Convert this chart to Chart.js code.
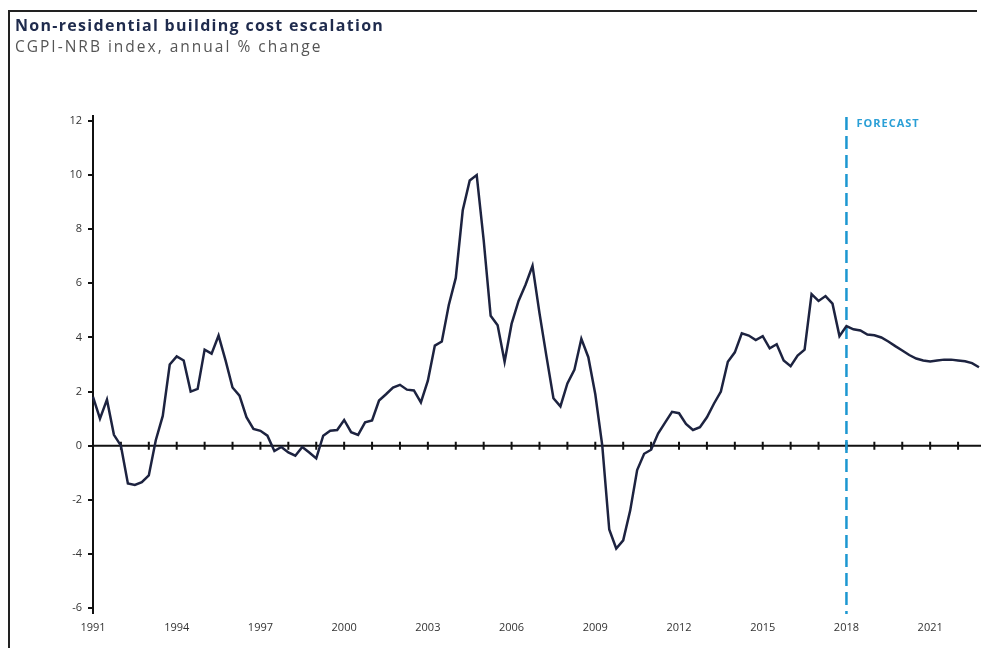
<!DOCTYPE html>
<html>
<head>
<meta charset="utf-8">
<title>Non-residential building cost escalation</title>
<script src="https://cdn.jsdelivr.net/npm/chart.js@4.4.1/dist/chart.umd.min.js"></script>
<style>
  html, body { margin: 0; padding: 0; background: #fff; }
  #frame {
    position: absolute; left: 8px; top: 10px; width: 967px; height: 640px;
    border-top: 2px solid #222; border-left: 2px solid #222;
  }
  #wrap { position: absolute; left: 0; top: 0; width: 981px; height: 648px; }
  .title {
    position: absolute; left: 15px; top: 15px; margin: 0; white-space: nowrap;
    font: bold 16px/20px "Open Sans", sans-serif; letter-spacing: 1.3px; color: #1f2b4d;
  }
  .subtitle {
    position: absolute; left: 15px; top: 36px; margin: 0; white-space: nowrap;
    font: 15.5px/20px "Open Sans", sans-serif; letter-spacing: 2px; color: #555;
  }
</style>
</head>
<body>
<div id="frame"></div>
<div id="wrap"><canvas id="costChart"></canvas></div>
<h1 class="title">Non-residential building cost escalation</h1>
<p class="subtitle">CGPI-NRB index, annual % change</p>
<script>
// Quarterly categories, 1991 Q1 .. 2022 Q4
const firstYear = 1991;
const lastYear = 2022;
const quarters = [];
for (let yr = firstYear; yr <= lastYear; yr++) {
  for (let q = 1; q <= 4; q++) quarters.push(yr + ' Q' + q);
}

// CGPI-NRB annual % change (one row per year, Q1..Q4)
const growth = [
  1.8, 1.0, 1.7, 0.4,       // 1991
  0.0, -1.4, -1.45, -1.35,  // 1992
  -1.1, 0.2, 1.1, 3.0,      // 1993
  3.3, 3.15, 2.0, 2.1,      // 1994
  3.55, 3.4, 4.07, 3.15,    // 1995
  2.15, 1.85, 1.05, 0.62,   // 1996
  0.55, 0.37, -0.2, -0.05,  // 1997
  -0.25, -0.37, -0.05, -0.25, // 1998
  -0.47, 0.37, 0.55, 0.58,  // 1999
  0.95, 0.5, 0.4, 0.86,     // 2000
  0.93, 1.67, 1.9, 2.15,    // 2001
  2.25, 2.07, 2.04, 1.6,    // 2002
  2.4, 3.7, 3.85, 5.2,      // 2003
  6.2, 8.7, 9.8, 10.0,      // 2004
  7.6, 4.8, 4.45, 3.1,      // 2005
  4.5, 5.35, 5.95, 6.65,    // 2006
  4.9, 3.3, 1.75, 1.45,     // 2007
  2.3, 2.8, 3.95, 3.27,     // 2008
  1.9, 0.0, -3.1, -3.8,     // 2009
  -3.5, -2.4, -0.9, -0.3,   // 2010
  -0.15, 0.45, 0.85, 1.25,  // 2011
  1.2, 0.8, 0.58, 0.68,     // 2012
  1.05, 1.55, 2.0, 3.1,     // 2013
  3.45, 4.15, 4.07, 3.9,    // 2014
  4.05, 3.6, 3.75, 3.15,    // 2015
  2.94, 3.33, 3.55, 5.6,    // 2016
  5.35, 5.53, 5.25, 4.05,   // 2017
  4.42, 4.3, 4.26, 4.11,    // 2018
  4.08, 4.0, 3.85, 3.68,    // 2019
  3.52, 3.35, 3.22, 3.15,   // 2020
  3.11, 3.15, 3.18, 3.18,   // 2021
  3.15, 3.12, 3.05, 2.9     // 2022
];

const forecastStart = '2018 Q1';
const yTicks = [-6, -4, -2, 0, 2, 4, 6, 8, 10, 12];
const labelEvery = 12; // a year label every 3 years

// draws the y axis, the zero line with yearly tick marks and the forecast marker
const axisPlugin = {
  id: 'axisLines',
  beforeDatasetsDraw(chart) {
    const { ctx, chartArea, scales: { x, y } } = chart;
    const y0 = y.getPixelForValue(0);
    ctx.save();
    ctx.strokeStyle = '#111';
    ctx.lineWidth = 2;
    ctx.beginPath();
    ctx.moveTo(chartArea.left, chartArea.top - 6);
    ctx.lineTo(chartArea.left, chartArea.bottom + 6);
    ctx.moveTo(chartArea.left, y0);
    ctx.lineTo(chart.width, y0);
    ctx.stroke();

    ctx.beginPath();
    quarters.forEach((q, i) => {
      if (i === 0 || i % 4 !== 0) return;
      const px = x.getPixelForValue(i);
      ctx.moveTo(px, y0 - 4);
      ctx.lineTo(px, y0 + 4);
    });
    ctx.stroke();

    const xf = x.getPixelForValue(quarters.indexOf(forecastStart));
    ctx.strokeStyle = '#1c97d1';
    ctx.lineWidth = 2.5;
    ctx.setLineDash([13, 6]);
    ctx.beginPath();
    ctx.moveTo(xf, chartArea.top - 4);
    ctx.lineTo(xf, chartArea.bottom + 6);
    ctx.stroke();
    ctx.setLineDash([]);

    ctx.fillStyle = '#2a9fd6';
    ctx.font = 'bold 11px "Open Sans"';
    ctx.letterSpacing = '1px';
    ctx.textBaseline = 'middle';
    ctx.textAlign = 'left';
    ctx.fillText('FORECAST', xf + 10, chartArea.top + 3);
    ctx.restore();
  }
};

const ctx = document.getElementById('costChart').getContext('2d');

new Chart(ctx, {
  type: 'line',
  data: {
    labels: quarters,
    datasets: [{
      label: 'CGPI-NRB annual % change',
      data: growth,
      borderColor: '#1d2340',
      borderWidth: 2.5,
      pointRadius: 0,
      tension: 0,
      fill: false
    }]
  },
  options: {
    responsive: true,
    maintainAspectRatio: false,
    animation: false,
    layout: { padding: { top: 121, left: 15, right: 2, bottom: 0 } },
    plugins: {
      legend: { display: false },
      tooltip: { enabled: false }
    },
    scales: {
      x: {
        type: 'category',
        grid: { display: false },
        border: { display: false },
        afterFit: (scale) => { scale.height = 40; },
        ticks: {
          autoSkip: false,
          maxRotation: 0,
          padding: 5,
          color: '#333',
          font: { family: '"Open Sans"', size: 11 },
          callback: (value, index) => (index % labelEvery === 0 ? quarters[index].slice(0, 4) : null)
        }
      },
      y: {
        min: yTicks[0],
        max: yTicks[yTicks.length - 1],
        afterFit: (scale) => { scale.width = 78; },
        afterBuildTicks: (scale) => { scale.ticks = yTicks.map(v => ({ value: v })); },
        grid: {
          drawOnChartArea: false,
          drawTicks: true,
          tickLength: 5,
          color: '#111',
          lineWidth: 2
        },
        border: { display: false },
        ticks: {
          padding: 6,
          color: '#333',
          font: { family: '"Open Sans"', size: 11 }
        }
      }
    }
  },
  plugins: [axisPlugin]
});
</script>
</body>
</html>
